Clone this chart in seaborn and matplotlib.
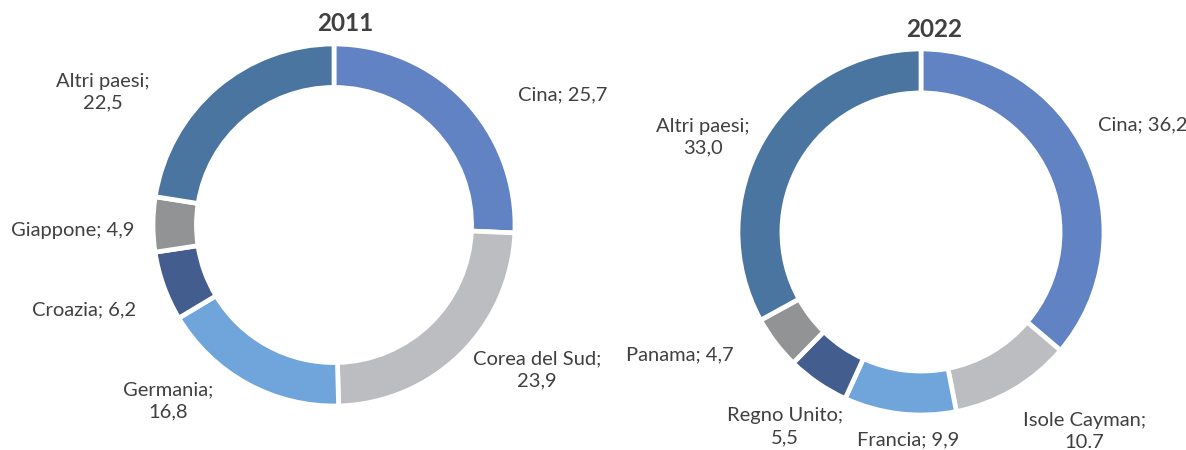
import matplotlib
matplotlib.use("Agg")
import matplotlib.pyplot as plt
import seaborn as sns

sns.set_theme(style="white")
plt.rcParams["font.family"] = ["Lato", "DejaVu Sans"]

# Share of foreign ownership by country (%)
countries_2011 = ["Cina", "Corea del Sud", "Germania", "Croazia", "Giappone", "Altri paesi"]
shares_2011 = [25.7, 23.9, 16.8, 6.2, 4.9, 22.5]

countries_2022 = ["Cina", "Isole Cayman", "Francia", "Regno Unito", "Panama", "Altri paesi"]
shares_2022 = [36.2, 10.7, 9.9, 5.5, 4.7, 33.0]

# decimal separator used in each value label
seps_2011 = [",", ",", ",", ",", ",", ","]
seps_2022 = [",", ".", ",", ",", ",", ","]

# whether the value goes on a second line
wrap_2011 = [False, True, True, False, False, True]
wrap_2022 = [False, True, False, True, False, True]

slice_colors = ["#6182C3", "#BCBDC1", "#6FA5DA", "#435E8E", "#929395", "#4A75A0"]
text_color = "#404040"

# label anchors, in units of the outer radius
label_pos_2011 = [(1.265, 0.718), (1.12, -0.80), (-0.917, -0.972),
                  (-1.381, -0.470), (-1.442, -0.028), (-1.276, 0.735)]
label_pos_2022 = [(1.213, 0.585), (0.891, -1.09), (-0.071, -1.137),
                  (-0.743, -1.065), (-1.317, -0.672), (-1.191, 0.519)]

W, H = 1186, 450
fig = plt.figure(figsize=(W / 100, H / 100), dpi=100)
fig.patch.set_facecolor("white")


def donut(cx, cy, r, title, title_dx, title_dy, names, values, seps, wraps, positions):
    ax = fig.add_axes([(cx - r) / W, (H - cy - r) / H, 2 * r / W, 2 * r / H])
    ax.pie(values, colors=slice_colors, startangle=90, counterclock=False,
           radius=1.0, wedgeprops=dict(width=0.24, edgecolor="white", linewidth=3.4))
    ax.set_xlim(-1, 1)
    ax.set_ylim(-1, 1)
    ax.set_aspect("equal")
    ax.axis("off")
    for name, v, sep, wrap, (x, y) in zip(names, values, seps, wraps, positions):
        val = f"{v:.1f}".replace(".", sep)
        txt = f"{name};\n{val}" if wrap else f"{name}; {val}"
        ax.text(x, y, txt, ha="center", va="center", fontsize=14.5,
                color=text_color, linespacing=1.35, clip_on=False)
    ax.text(title_dx, title_dy, title, ha="center", va="center", fontsize=17.5,
            fontweight="bold", color=text_color, clip_on=False)


donut(334, 225, 181, "2011", 0.06, 1.116, countries_2011, shares_2011,
      seps_2011, wrap_2011, label_pos_2011)
donut(921, 232, 183, "2022", 0.072, 1.105, countries_2022, shares_2022,
      seps_2022, wrap_2022, label_pos_2022)

fig.savefig("out.png", dpi=100, facecolor="white")
